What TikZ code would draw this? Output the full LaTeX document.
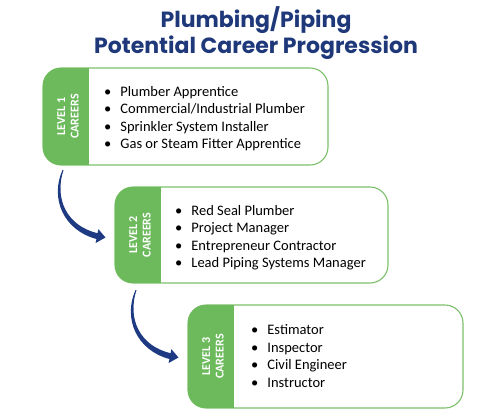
\documentclass[tikz,border=0pt]{standalone}
\usepackage{fontspec}
\setmainfont{Carlito}
\newfontfamily\titlefont{Poppins}
\usetikzlibrary{positioning}
\definecolor{tabgreen}{RGB}{108,186,92}
\definecolor{edgegreen}{RGB}{122,192,104}
\definecolor{titleblue}{RGB}{30,56,122}
\definecolor{arrownavy}{RGB}{30,58,130}

\begin{document}
\begin{tikzpicture}[x=1pt,y=-1pt,
levelbox/.style = {draw=edgegreen, line width=1.1pt, rounded corners=18pt,
            inner sep=0pt, outer sep=0pt},
tabtext/.style = {text=white, font=\fontsize{12}{13.5}\selectfont\bfseries,
            align=center, rotate=90, inner sep=0pt},
careers/.style = {anchor=west, inner sep=0pt, font=\fontsize{14.5}{17.5}\selectfont},
titletext/.style = {anchor=base, inner sep=0pt, text=titleblue,
            font=\titlefont\bfseries\fontsize{22}{26}\selectfont},
swoosh/.pic = {% tapered curved arrow, drawn from its thin end
    \fill[arrownavy] (-0.5,0) .. controls (-13,28) and (0,60) .. (33.4,69)
        -- (32.6,73) -- (42.5,67.5) -- (35.4,59.2) -- (34.6,63.2)
        .. controls (4,56) and (-9,29) .. (0.5,0) -- cycle;
}
                ]
    \useasboundingbox (0,0) rectangle (499,418);
    \node[titletext] (title1) at (256,27) {Plumbing/Piping};
    \node[titletext] (title2) at (256,53) {Potential Career Progression};
    % the three level boxes with their green tabs
    \foreach \n/\cx/\cy/\w/\h in {1/185.5/116.5/285/97, 2/251.5/235/273/96, 3/325.5/356.5/275/103}{
        \node[levelbox, minimum width=\w pt, minimum height=\h pt] (box\n) at (\cx,\cy) {};
        \begin{scope}
            \clip[rounded corners=18pt] (box\n.north west) rectangle (box\n.south east);
            \fill[tabgreen] (box\n.north west) rectangle ([xshift=46]box\n.south west);
        \end{scope}
        \node[tabtext] (tab\n) at ([xshift=25]box\n.west) {LEVEL \n\\CAREERS};
    }
    \node[careers] (list1) at ([xshift=61,yshift=-2.5]box1.west) {\begin{tabular}{@{}l@{\hspace{9pt}}l@{}}
        \textbullet & Plumber Apprentice\\
        \textbullet & Commercial/Industrial Plumber\\
        \textbullet & Sprinkler System Installer\\
        \textbullet & Gas or Steam Fitter Apprentice
        \end{tabular}};
    \node[careers] (list2) at ([xshift=60,yshift=-3]box2.west) {\begin{tabular}{@{}l@{\hspace{9pt}}l@{}}
        \textbullet & Red Seal Plumber\\
        \textbullet & Project Manager\\
        \textbullet & Entrepreneur Contractor\\
        \textbullet & Lead Piping Systems Manager
        \end{tabular}};
    \node[careers] (list3) at ([xshift=63,yshift=-1]box3.west) {\begin{tabular}{@{}l@{\hspace{9pt}}l@{}}
        \textbullet & Estimator\\
        \textbullet & Inspector\\
        \textbullet & Civil Engineer\\
        \textbullet & Instructor
        \end{tabular}};
    % arrows from one level to the next
    \coordinate (from1) at (63,170);
    \coordinate (from2) at (136,290);
    \pic at (from1) {swoosh};
    \pic at (from2) {swoosh};
\end{tikzpicture}
\end{document}
